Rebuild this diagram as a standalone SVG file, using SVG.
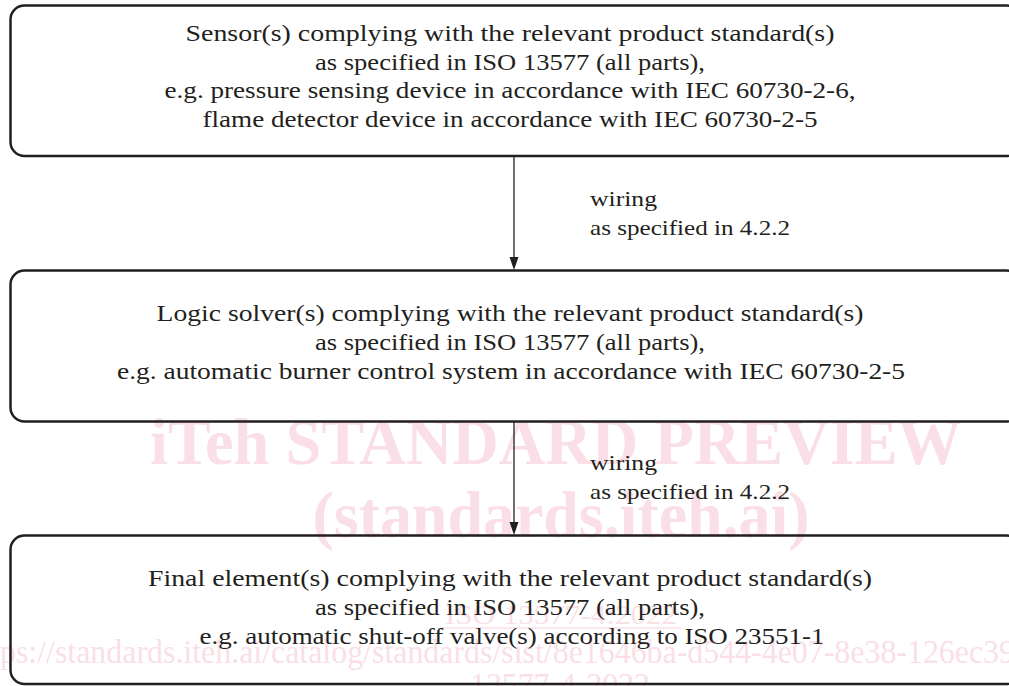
<svg xmlns="http://www.w3.org/2000/svg" width="1009" height="686" viewBox="0 0 1009 686">
<style>
.box{fill:none;stroke:#231f20;stroke-width:2.5}
.t{font-family:"Liberation Serif","DejaVu Serif",serif;font-size:24px;fill:#231f20;text-anchor:middle}
.w{font-family:"Liberation Serif","DejaVu Serif",serif;font-size:21px;fill:#231f20}
.wm{font-family:"Liberation Serif","Times New Roman",serif;fill:#fadfe7}
.wmb{font-weight:bold;font-size:65px;text-anchor:middle}
.conn{stroke:#231f20;stroke-width:1.3;fill:none}
</style>
<g id="watermark">
<text class="wm wmb" x="556" y="464" textLength="812" lengthAdjust="spacingAndGlyphs">iTeh STANDARD PREVIEW</text>
<text class="wm wmb" x="561" y="537" textLength="497" lengthAdjust="spacingAndGlyphs">(standards.iteh.ai)</text>
<text class="wm" x="445" y="624" font-size="27" textLength="232" lengthAdjust="spacingAndGlyphs">ISO 13577-4:2022</text>
<line x1="440" y1="628" x2="681" y2="628" stroke="#fadfe7" stroke-width="1.5"/>
<text class="wm" x="0" y="663" font-size="33" textLength="1015" lengthAdjust="spacingAndGlyphs">ps://standards.iteh.ai/catalog/standards/sist/8e1646ba-d544-4e07-8e38-126ec39</text>
<text class="wm" x="470" y="695" font-size="32" textLength="180" lengthAdjust="spacingAndGlyphs">13577-4-2022</text>
</g>
<g id="connectors">
<line class="conn" x1="514" y1="157" x2="514" y2="258"/>
<path d="M509.5,257 L518.5,257 L514,270 Z" fill="#231f20"/>
<line class="conn" x1="514" y1="422" x2="514" y2="523"/>
<path d="M509.5,522 L518.5,522 L514,535 Z" fill="#231f20"/>
<text class="w" x="590" y="206" textLength="67" lengthAdjust="spacingAndGlyphs">wiring</text>
<text class="w" x="590" y="235" textLength="200" lengthAdjust="spacingAndGlyphs">as specified in 4.2.2</text>
<text class="w" x="590" y="470" textLength="67" lengthAdjust="spacingAndGlyphs">wiring</text>
<text class="w" x="590" y="499" textLength="200" lengthAdjust="spacingAndGlyphs">as specified in 4.2.2</text>
</g>
<g id="sensor">
<rect class="box" x="10.5" y="5.5" width="1010" height="150.5" rx="14"/>
<text class="t" x="510" y="41" textLength="649" lengthAdjust="spacingAndGlyphs">Sensor(s) complying with the relevant product standard(s)</text>
<text class="t" x="510" y="70" textLength="390" lengthAdjust="spacingAndGlyphs">as specified in ISO 13577 (all parts),</text>
<text class="t" x="510" y="98" textLength="691" lengthAdjust="spacingAndGlyphs">e.g. pressure sensing device in accordance with IEC 60730-2-6,</text>
<text class="t" x="510" y="127" textLength="615" lengthAdjust="spacingAndGlyphs">flame detector device in accordance with IEC 60730-2-5</text>
</g>
<g id="logic">
<rect class="box" x="10.5" y="270.5" width="1010" height="151" rx="14"/>
<text class="t" x="510" y="321" textLength="707" lengthAdjust="spacingAndGlyphs">Logic solver(s) complying with the relevant product standard(s)</text>
<text class="t" x="510" y="350" textLength="390" lengthAdjust="spacingAndGlyphs">as specified in ISO 13577 (all parts),</text>
<text class="t" x="511" y="379" textLength="788" lengthAdjust="spacingAndGlyphs">e.g. automatic burner control system in accordance with IEC 60730-2-5</text>
</g>
<g id="final">
<rect class="box" x="10.5" y="535.5" width="1010" height="148.5" rx="14"/>
<text class="t" x="510" y="586" textLength="724" lengthAdjust="spacingAndGlyphs">Final element(s) complying with the relevant product standard(s)</text>
<text class="t" x="510" y="615" textLength="390" lengthAdjust="spacingAndGlyphs">as specified in ISO 13577 (all parts),</text>
<text class="t" x="512" y="644" textLength="625" lengthAdjust="spacingAndGlyphs">e.g. automatic shut-off valve(s) according to ISO 23551-1</text>
</g>
</svg>
